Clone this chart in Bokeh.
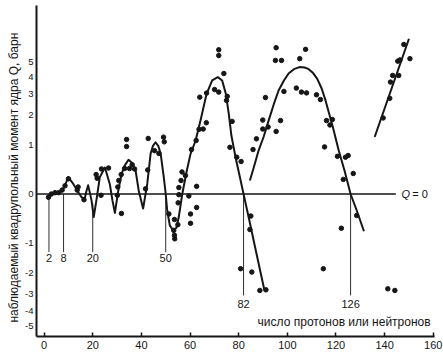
import numpy as np
from bokeh.plotting import figure
from bokeh.models import Range1d, FixedTicker, CustomJSTickFormatter, Label
from bokeh.core.properties import value
from bokeh.embed import file_html
from bokeh.resources import INLINE

# ---------------- data ----------------
# measured nuclei: number of protons or neutrons, observed quadrupole moment Q (barn)
nucleon_number = [1.8, 3.0, 4.5, 6.0, 7.4, 8.6, 10.0,
                  13.6, 14.0, 16.4,
                  21.4, 21.8, 23.4, 23.6, 26.5,
                  30.1, 30.3, 30.7, 31.7, 31.8,
                  33.1, 33.9, 33.9, 35.1, 36.2, 37.2,
                  41.7, 42.6, 42.8, 45.4, 47.2, 49.1, 49.4,
                  51.3, 53.6, 53.3, 53.6, 53.7, 55.0, 55.1, 55.4, 55.4, 56.3, 56.7, 58.1,
                  59.5, 60.2, 60.2, 62.7, 62.7,
                  60.6, 62.5, 63.7, 65.4, 66.7, 64.0, 66.8, 70.1, 71.8, 71.8, 71.8, 73.9,
                  75.3, 75.0, 77.3, 76.4, 79.2, 81.0,
                  85.0, 84.6, 80.8, 85.4, 88.7, 91.2,
                  85.9, 87.3, 89.9, 89.9, 91.0, 92.1, 95.4, 97.2, 95.4, 95.1, 97.6, 98.6,
                  103.7, 105.1, 107.5, 105.8, 107.9, 112.0, 113.6, 116.1, 118.5, 117.5,
                  115.3, 120.6, 123.9, 125.0, 127.1, 123.0, 128.5, 122.2, 114.8, 141.3, 144.2,
                  139.4, 142.1, 142.4, 143.3, 145.8, 145.4, 146.3, 150.4, 147.9]
quadrupole_q = [-0.05, 0.0, 0.02, 0.02, 0.06, 0.13, 0.25,
                0.06, 0.11, -0.09,
                0.33, 0.26, -0.02, 0.44, 0.46,
                -0.02, 0.11, 0.22, 0.33, -0.33,
                0.45, 1.17, 0.97, 0.45, 0.53, 0.44,
                0.08, 0.42, 1.2, 0.86, 0.79, 1.24, 1.1,
                -0.34, -0.45, -0.69, -0.81, -0.9, -0.56, -0.14, -0.01, 0.1, 0.22, 0.38, 0.31,
                -0.03, -0.34, -0.53, -0.22, 0.12,
                0.89, 1.14, 1.49, 1.5, 1.72, 2.82, 3.03, 3.22, 3.08, 6.06, 5.56, 4.2,
                2.86, 2.66, 1.77, 0.95, 0.7, 0.6,
                -0.38, -0.67, -1.85, -1.98, -2.8, -2.77,
                0.89, 1.19, 1.82, 1.5, 2.8, 1.57, 1.42, 1.8, 6.25, 5.16, 5.16, 3.12,
                3.3, 5.3, 6.1, 3.08, 3.04, 2.94, 2.7, 1.8, 1.84, 1.64,
                0.96, 0.72, 0.7, 0.74, 0.35, 0.24, -0.37, -0.64, -1.85, -2.72, -2.8,
                1.9, 2.76, 3.65, 4.07, 4.07, 5.1, 5.2, 5.3, 6.56]

# drawn trend curves
fit1_z = [1.7, 3.0, 4.7, 6.7, 8.0, 9.2, 9.9, 12.0, 14.0, 15.4, 16.7, 17.3, 18.1, 19.5, 20.4,
          21.5, 22.9, 25.0, 27.0, 28.1, 29.1, 30.5, 31.8, 33.0, 34.7, 36.3, 37.6, 38.9, 40.7,
          42.4, 43.8, 44.7, 45.8, 47.0, 47.9, 49.2, 50.0, 50.6, 51.7, 53.1, 54.4, 55.4, 56.8,
          58.6, 60.2, 62.3, 64.3, 66.8, 69.1, 71.4, 73.2, 74.7, 75.9, 77.0, 78.7, 79.9, 82.0,
          84.3, 87.1, 90.6]
fit1_q = [-0.05, -0.01, 0.015, 0.03, 0.085, 0.2, 0.28, 0.16, 0.03, -0.05, -0.075, 0.03, 0.14,
          -0.1, -0.4, -0.1, 0.28, 0.47, 0.16, -0.1, -0.32, 0.05, 0.33, 0.5, 0.64, 0.56, 0.41,
          0.05, -0.24, 0.16, 0.79, 0.98, 1.09, 0.98, 0.79, 0.28, 0.0, -0.27, -0.58, -0.69,
          -0.63, -0.39, 0.0, 0.39, 0.78, 1.14, 1.8, 2.99, 3.75, 3.96, 3.75, 3.0, 2.08, 1.29,
          0.7, 0.41, 0.0, -0.45, -1.25, -2.8]
fit2_z = [84.6, 86.2, 88.2, 90.3, 92.3, 94.4, 96.4, 98.6, 100.5, 102.7, 105.0, 107.1, 108.8,
          110.6, 112.3, 114.1, 115.7, 117.2, 118.7, 121.1, 123.5, 126.0, 128.5, 131.5]
fit2_q = [0.22, 0.47, 0.87, 1.26, 1.8, 2.47, 3.17, 3.75, 4.2, 4.5, 4.65, 4.62, 4.5, 4.23,
          3.85, 3.28, 2.66, 2.07, 1.57, 0.87, 0.41, 0.0, -0.27, -0.71]
fit3_z = [135.9, 150.0]
fit3_q = [1.245, 7.13]

# magic numbers
magic_numbers = [2, 8, 20, 50, 82, 126]
magic_labels = ["2", "8", "20", "50", "82", "126"]
magic_line_top = [0.0, 0.0, -0.15, 0.0, 0.0, 0.0]
magic_line_bottom = [-1.28, -1.28, -1.28, -1.28, -3.06, -3.06]
magic_label_q = [-1.34, -1.34, -1.34, -1.34, -3.28, -3.28]

zero_line_z = [-3.1, 144.6]
zero_line_q = [0.0, 0.0]

x_tick_values = [0, 20, 40, 60, 80, 100, 120, 140, 160]
y_tick_values = [-5, -4, -3, -2, -1, 0, 1, 2, 3, 4, 5]

# ---------------- compressed Q scale of the original figure ----------------
Q_SCALE = 1.2


def qscale(q):
    q = np.asarray(q, dtype=float)
    return np.sign(q) * np.log1p(np.abs(q) / Q_SCALE)


FONT = "Liberation Sans"
INK = "#161616"

p = figure(width=443, height=358, output_backend="svg", toolbar_location=None,
           x_range=Range1d(-3.125, 160.5), y_range=Range1d(-1.779, 2.353),
           min_border_left=36, min_border_right=9, min_border_top=5, min_border_bottom=22)
p.outline_line_color = None
p.grid.visible = False
p.background_fill_color = "white"
p.border_fill_color = "white"

xa = p.xaxis[0]
xa.ticker = FixedTicker(ticks=x_tick_values)
xa.major_tick_in = 4
xa.major_tick_out = 0
xa.minor_tick_in = 0
xa.minor_tick_out = 0
xa.axis_line_width = 2
xa.axis_line_color = INK
xa.major_tick_line_color = INK
xa.major_tick_line_width = 1.5
xa.major_label_text_font = FONT
xa.major_label_text_font_size = "11px"
xa.major_label_text_color = INK
xa.major_label_standoff = 4

ya = p.yaxis[0]
ya.ticker = FixedTicker(ticks=[float(v) for v in qscale(y_tick_values)])
ya.formatter = CustomJSTickFormatter(code="""
const q = Math.sign(tick) * %s * Math.expm1(Math.abs(tick));
return String(Math.round(q));
""" % Q_SCALE)
ya.major_tick_in = 0
ya.major_tick_out = 0
ya.minor_tick_in = 0
ya.minor_tick_out = 0
ya.axis_line_width = 2
ya.axis_line_color = INK
ya.major_label_text_font = FONT
ya.major_label_text_font_size = "9.5px"
ya.major_label_text_color = INK
ya.major_label_standoff = 3
ya.axis_label = "наблюдаемый квадрупольный момент ядра   Q,   барн"
ya.axis_label_text_font = FONT
ya.axis_label_text_font_size = "12px"
ya.axis_label_text_font_style = "normal"
ya.axis_label_text_color = INK
ya.axis_label_standoff = 1

# magic-number verticals
p.segment(x0=magic_numbers, y0=qscale(magic_line_top), x1=magic_numbers,
          y1=qscale(magic_line_bottom), line_width=1, line_color="#303030")
p.text(x=magic_numbers, y=qscale(magic_label_q), text=magic_labels,
       text_align="center", text_baseline="top", text_font=value(FONT),
       text_font_size="11px", text_color=INK)

# Q = 0 line
p.line(zero_line_z, qscale(zero_line_q), line_width=1.3, line_color=INK)

# trend curves
for cz, cq in ((fit1_z, fit1_q), (fit2_z, fit2_q), (fit3_z, fit3_q)):
    p.line(cz, qscale(cq), line_width=2, line_color=INK, line_join="round")

# measured points
p.scatter(nucleon_number, qscale(quadrupole_q), size=4.5, fill_color=INK, line_color=INK)

# texts
p.add_layout(Label(x=146.9, y=0.0, text="Q", text_font=FONT, text_font_size="11px",
                   text_font_style="italic", text_baseline="middle", text_color=INK))
p.add_layout(Label(x=151.4, y=0.0, text="= 0", text_font=FONT, text_font_size="11px",
                   text_baseline="middle", text_color=INK))
p.add_layout(Label(x=158.9, y=float(qscale(-4.74)), text="число протонов или нейтронов",
                   text_font=FONT, text_font_size="12px", text_align="right",
                   text_baseline="middle", text_color=INK))

open("out.html", "w").write(file_html(p, INLINE))
